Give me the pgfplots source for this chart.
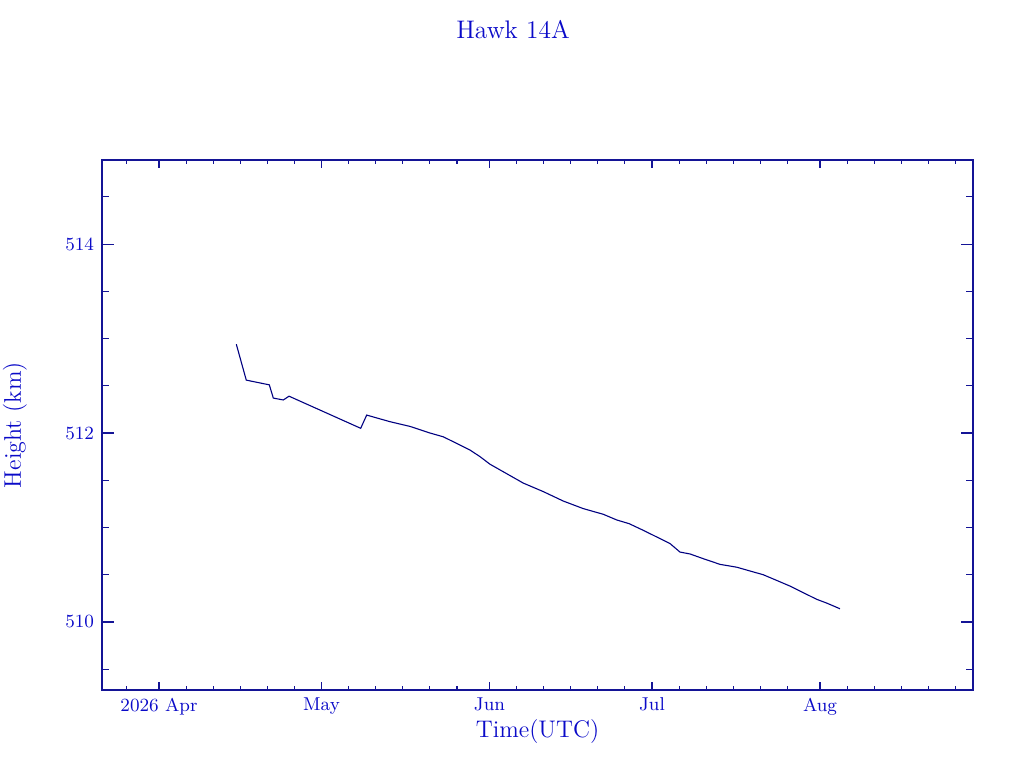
\documentclass[border=0pt]{standalone}
\usepackage{pgfplots}
\pgfplotsset{compat=1.18}
\definecolor{txtblue}{RGB}{10,10,200}
\definecolor{axblue}{RGB}{20,20,150}
\definecolor{lineblue}{RGB}{0,0,128}
\begin{document}
\begin{tikzpicture}[x=1pt,y=1pt]
\useasboundingbox (0,0) rectangle (512,384);
\node[text=txtblue, font=\fontsize{12.7}{14}\selectfont, anchor=center] at (256.5,369) {Hawk 14A};
\begin{axis}[
  scale only axis,
  width=435.5pt, height=265pt,
  at={(51pt,39pt)}, anchor=south west,
  xmin=-10.52, xmax=150.24,
  ymin=509.28, ymax=514.89,
  axis line style={axblue, line width=0.55pt},
  tick style={axblue, line width=0.55pt},
  xtick={0,30,61,91,122},
  xticklabels={2026 Apr, May, Jun, Jul, Aug},
  minor xtick={-6,5,10,15,20,25,35,40,45,50,55,66,71,76,81,86,96,101,106,111,116,127,132,137,142,147},
  ytick={510,512,514},
  minor ytick={509.5,510.5,511,511.5,512.5,513,513.5,514.5},
  yticklabels={510,512,514},
  tick align=inside,
  xtick style={/pgfplots/major tick length=4pt, /pgfplots/minor tick length=1.8pt},
  ytick style={/pgfplots/major tick length=6pt, /pgfplots/minor tick length=3.3pt},
  ticklabel style={text=txtblue, font=\fontsize{9.3}{11}\selectfont},
  xticklabel style={yshift=-0.5pt},
  yticklabel style={xshift=-0.5pt},
  xlabel={Time(UTC)},
  ylabel={Height (km)},
  label style={text=txtblue, font=\fontsize{12}{14}\selectfont},
  xlabel style={at={(axis description cs:0.5,-0.0792)}, anchor=center},
  ylabel style={at={(axis description cs:-0.0999,0.5)}, anchor=center},
  clip=true,
]
\addplot[lineblue, line width=0.55pt, mark=none] coordinates {
(14.27,512.94)
(16.11,512.56)
(20.36,512.51)
(21.10,512.37)
(22.94,512.35)
(24.00,512.39)
(37.23,512.05)
(38.33,512.19)
(42.64,512.12)
(46.33,512.07)
(50.02,512.00)
(52.47,511.96)
(54.95,511.89)
(57.40,511.82)
(59.25,511.75)
(61.09,511.67)
(63.55,511.59)
(67.24,511.47)
(70.93,511.38)
(74.62,511.28)
(78.31,511.20)
(82.00,511.14)
(84.48,511.08)
(86.80,511.04)
(89.39,510.97)
(91.86,510.90)
(94.32,510.83)
(96.16,510.74)
(98.01,510.72)
(100.46,510.67)
(103.54,510.61)
(106.62,510.58)
(109.69,510.53)
(111.53,510.50)
(114.01,510.44)
(116.46,510.38)
(118.92,510.31)
(121.39,510.24)
(123.24,510.20)
(125.69,510.14)
};
\end{axis}
\end{tikzpicture}
\end{document}
